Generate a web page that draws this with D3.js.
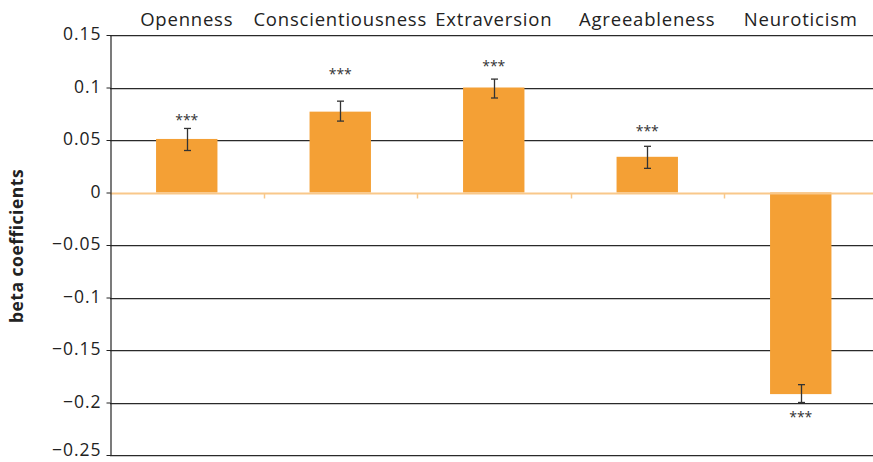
<!DOCTYPE html>
<html>
<head>
<meta charset="utf-8">
<script src="https://cdn.jsdelivr.net/npm/d3@7"></script>
<style>
  html, body { margin: 0; padding: 0; background: #fff; }
  svg { display: block; }
</style>
</head>
<body>
<svg id="chart" width="873" height="462"></svg>
<script>
// ---- data ----
const categories = ["Openness", "Conscientiousness", "Extraversion", "Agreeableness", "Neuroticism"];
const betas      = [0.051, 0.077, 0.100, 0.034, -0.192];
const errLow     = [0.040, 0.068, 0.090, 0.023, -0.200];
const errHigh    = [0.061, 0.087, 0.108, 0.044, -0.183];
const starLevel  = [0.072, 0.115, 0.123, 0.061, -0.211];
const starLabels = ["***", "***", "***", "***", "***"];
const yTicks     = [0.15, 0.1, 0.05, 0, -0.05, -0.1, -0.15, -0.2, -0.25];
const yTickLabels = ["0.15", "0.1", "0.05", "0", "\u22120.05", "\u22120.1", "\u22120.15", "\u22120.2", "\u22120.25"];
const yTitle = "beta coefficients";

// ---- layout ----
const svg = d3.select("#chart");
const mLeft = 110, mRight = 877.5, mTop = 35, mBottom = 455;
const font = "'Open Sans', 'DejaVu Sans', sans-serif";

const x = d3.scaleBand().domain(categories).range([mLeft, mRight]).paddingInner(0).paddingOuter(0);
const y = d3.scaleLinear().domain([-0.25, 0.15]).range([mBottom, mTop]);
const barW = x.bandwidth() * 0.4;

// gridlines (dark line with light shadow below)
const grid = svg.append("g");
yTicks.filter(t => t !== 0).forEach(t => {
  const yy = Math.round(y(t));
  grid.append("line").attr("x1", mLeft).attr("x2", 873).attr("y1", yy + 1.5).attr("y2", yy + 1.5)
    .attr("stroke", "#c8c8c8").attr("stroke-width", 1);
  grid.append("line").attr("x1", mLeft).attr("x2", 873).attr("y1", yy + 0.5).attr("y2", yy + 0.5)
    .attr("stroke", "#2a2a2a").attr("stroke-width", 1.2);
});

// bars
svg.append("g").selectAll("rect").data(categories).join("rect")
  .attr("x", (d) => x(d) + (x.bandwidth() - barW) / 2)
  .attr("width", barW)
  .attr("y", (d, i) => y(Math.max(0, betas[i])))
  .attr("height", (d, i) => Math.abs(y(betas[i]) - y(0)))
  .attr("fill", "#f4a035");

// zero line with ticks
const zy = Math.round(y(0)) + 0.5;
svg.append("line").attr("x1", mLeft).attr("x2", 873).attr("y1", zy).attr("y2", zy)
  .attr("stroke", "#f9c88a").attr("stroke-width", 2);
svg.append("g").selectAll("line").data(categories.slice(1)).join("line")
  .attr("x1", d => Math.round(x(d)) + 0.5).attr("x2", d => Math.round(x(d)) + 0.5)
  .attr("y1", zy).attr("y2", zy + 5)
  .attr("stroke", "#f9c88a").attr("stroke-width", 1.5);

// error bars
const eb = svg.append("g").attr("stroke", "#333").attr("stroke-width", 1.3);
categories.forEach((c, i) => {
  const cx = Math.round(x(c) + x.bandwidth() / 2) + 0.5;
  eb.append("line").attr("x1", cx).attr("x2", cx).attr("y1", y(errLow[i])).attr("y2", y(errHigh[i]));
  [errLow[i], errHigh[i]].forEach(v => {
    eb.append("line").attr("x1", cx - 3.5).attr("x2", cx + 3.5).attr("y1", y(v)).attr("y2", y(v));
  });
});

// stars
svg.append("g").selectAll("text").data(categories).join("text")
  .attr("x", d => x(d) + x.bandwidth() / 2)
  .attr("y", (d, i) => y(starLevel[i]))
  .attr("dy", "0.55em")
  .attr("text-anchor", "middle")
  .attr("font-family", font).attr("font-size", 14).attr("fill", "#333")
  .text((d, i) => starLabels[i]);

// y axis
const yAxis = d3.axisLeft(y).tickValues(yTicks).tickSize(4).tickSizeOuter(0)
  .tickFormat((d, i) => yTickLabels[i]);
const ga = svg.append("g").attr("transform", `translate(${mLeft + 0.5},0)`).call(yAxis);
ga.select(".domain").attr("stroke", "#222").attr("stroke-width", 1.2);
ga.selectAll(".tick line").attr("stroke", "#222");
ga.selectAll(".tick text").attr("font-family", font).attr("font-size", 17.5).attr("letter-spacing", 1)
  .attr("fill", "#222").attr("x", -9)
  .attr("dy", (d, i) => i === yTicks.length - 1 ? "0.02em" : "0.28em");

// category labels on top
svg.append("g").selectAll("text").data(categories).join("text")
  .attr("x", d => x(d) + x.bandwidth() / 2)
  .attr("y", 26)
  .attr("text-anchor", "middle")
  .attr("font-family", font).attr("font-size", 18.5).attr("letter-spacing", 0.8).attr("fill", "#222")
  .text(d => d);

// y title
svg.append("text")
  .attr("transform", `translate(23,246) rotate(-90)`)
  .attr("text-anchor", "middle")
  .attr("font-family", font).attr("font-weight", "bold").attr("font-size", 17.5).attr("letter-spacing", 0.5).attr("fill", "#222")
  .text(yTitle);
</script>
</body>
</html>
